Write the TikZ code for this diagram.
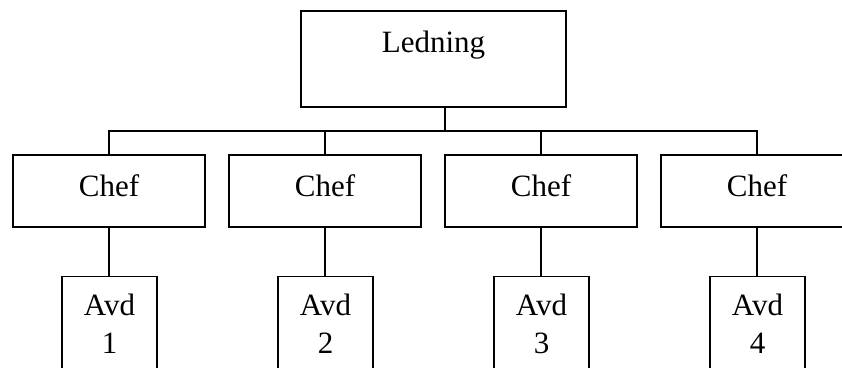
\documentclass[tikz,border=0pt]{standalone}
\usepackage{fontspec}
\setmainfont{Liberation Serif}
\newcommand{\orgfont}{\fontsize{31}{38}\selectfont}
\tikzset{
  unit/.style={draw, line width=1.4pt, inner sep=0pt, font=\orgfont},
  topbox/.style={unit, minimum width=265pt, minimum height=96pt, text height=22pt, text depth=36pt},
  chefbox/.style={unit, minimum width=192pt, minimum height=72pt, text height=22pt, text depth=12pt},
  avdbox/.style={unit, minimum width=95pt, anchor=north, text height=39pt, text depth=130pt},
  link/.style={line width=1.4pt}
}
\begin{document}
\begin{tikzpicture}[x=1pt, y=-1pt]
  \useasboundingbox (0,0) rectangle (842,367);
  \clip (0,0) rectangle (842,367);

  % management
  \node[topbox] (led) at (433.5,59) {Ledning};

  % department heads
  \node[chefbox] (chef1) at (109,191) {Chef};
  \node[chefbox] (chef2) at (325,191) {Chef};
  \node[chefbox] (chef3) at (541,191) {Chef};
  \node[chefbox] (chef4) at (757,191) {Chef};

  % departments
  \node[avdbox] (avd1) at (109.5,276) {\begin{tabular}[t]{@{}c@{}}Avd\\1\end{tabular}};
  \node[avdbox] (avd2) at (325.5,276) {\begin{tabular}[t]{@{}c@{}}Avd\\2\end{tabular}};
  \node[avdbox] (avd3) at (541.5,276) {\begin{tabular}[t]{@{}c@{}}Avd\\3\end{tabular}};
  \node[avdbox] (avd4) at (757.5,276) {\begin{tabular}[t]{@{}c@{}}Avd\\4\end{tabular}};

  % bus joining management to the heads
  \coordinate (bus) at (445,131);
  \draw[link] (bus) -- (bus |- led.south);
  \foreach \i in {1,...,4} {
    \draw[link] (chef\i.north) |- (bus);
    \draw[link] (chef\i.south) -- (chef\i.south |- avd\i.north);
  }
\end{tikzpicture}
\end{document}
